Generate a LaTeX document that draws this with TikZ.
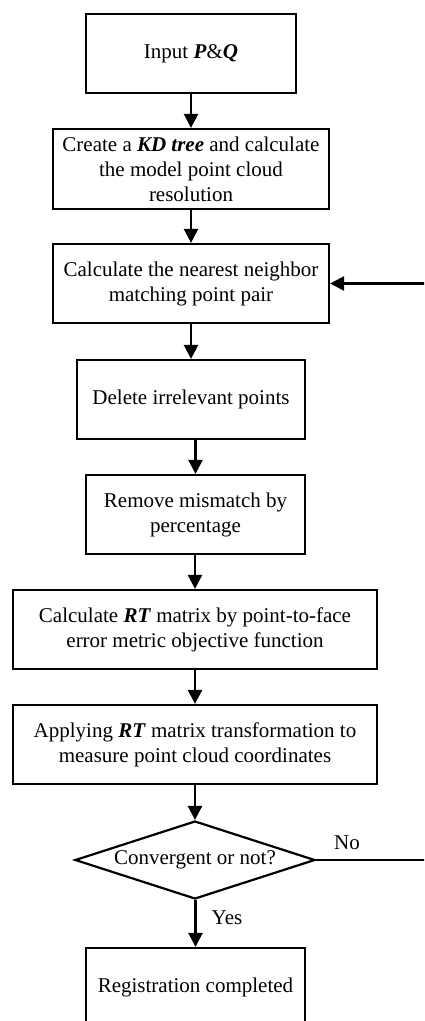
\documentclass[tikz,border=0pt]{standalone}
\usepackage{fontspec}
\setmainfont{Liberation Serif}
\usetikzlibrary{shapes.geometric,arrows.meta}
\tikzset{
  procbox/.style={draw=black, line width=2.2pt, fill=white, align=center, inner sep=0pt,
    font=\fontsize{21}{25}\selectfont},
  decbox/.style={draw=black, line width=2.2pt, shape=diamond, shape aspect=3.08, inner sep=0pt,
    minimum width=240pt, minimum height=78pt, font=\fontsize{21}{25}\selectfont},
  flow/.style={line width=2.4pt, -{Triangle[length=14pt,width=14pt]}},
  lbl/.style={font=\fontsize{21}{25}\selectfont, inner sep=0pt}
}
\newcommand{\bi}[1]{\textbf{\textit{#1}}}
\begin{document}
\begin{tikzpicture}[x=1pt,y=-1pt]
\path[use as bounding box] (0,0) rectangle (424,1021);
\clip (0,0) rectangle (424,1021);
\node[procbox, minimum width=210pt, minimum height=79pt] (b1) at (191,53.5) {Input \bi{P}\&\bi{Q}};
\node[procbox, minimum width=276pt, minimum height=80pt] (b2) at (191,169) {Create a \bi{KD tree} and calculate\\the model point cloud\\resolution};
\node[procbox, minimum width=276pt, minimum height=79pt] (b3) at (191,283.5) {Calculate the nearest neighbor\\matching point pair};
\node[procbox, minimum width=228pt, minimum height=79pt] (b4) at (191,399.5) {Delete irrelevant points};
\node[procbox, minimum width=219pt, minimum height=79pt] (b5) at (195.5,514.5) {Remove mismatch by\\percentage};
\node[procbox, minimum width=364pt, minimum height=79pt] (b6) at (195,629.5) {Calculate \bi{RT} matrix by point-to-face\\error metric objective function};
\node[procbox, minimum width=364pt, minimum height=79pt] (b7) at (195,744.5) {Applying \bi{RT} matrix transformation to\\measure point cloud coordinates};
\node[decbox] (d) at (195,860) {Convergent or not?};
\node[procbox, minimum width=219pt, minimum height=79pt] (b8) at (195.5,987.5) {Registration completed};
\coordinate (loop) at (428,860);
\draw[flow] (b1) -- (b2);
\draw[flow] (b2) -- (b3);
\draw[flow] (b3) -- (b4);
\draw[flow] (b4.south -| b5.north) -- (b5.north);
\draw[flow] (b5.south -| b6.north) -- (b6.north);
\draw[flow] (b6) -- (b7);
\draw[flow] (b7) -- (d);
\draw[flow] (d.south -| b8.north) -- (b8.north);
\draw[flow] (d.east) -- (loop) |- (b3.east);
\node[lbl] (no) at (347,843) {No};
\node[lbl] (yes) at (227,918) {Yes};
\end{tikzpicture}
\end{document}
